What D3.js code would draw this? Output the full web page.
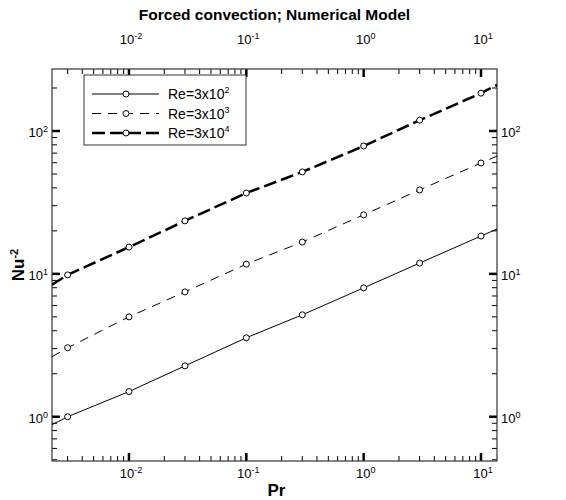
<!DOCTYPE html>
<html>
<head>
<meta charset="utf-8">
<script src="https://cdn.jsdelivr.net/npm/d3@7"></script>
<style>
  body { margin: 0; background: #fff; }
  svg text { font-family: "Liberation Sans", Arial, sans-serif; fill: #000; }
</style>
</head>
<body>
<svg id="chart" width="566" height="500"></svg>
<script>
const width = 566, height = 500;
const margin = { top: 69, right: 69, bottom: 39, left: 52 };

// Prandtl numbers where the model was evaluated
const pr = [0.003, 0.01, 0.03, 0.1, 0.3, 1, 3, 10];

// Nu^-2 for each Reynolds number
const nuRe300 = [1.0, 1.5, 2.27, 3.57, 5.17, 7.98, 11.9, 18.4];
const nuRe3000 = [3.04, 5.0, 7.48, 11.7, 16.7, 25.9, 38.7, 59.7];
const nuRe30000 = [9.84, 15.4, 23.5, 36.8, 51.7, 78.5, 119, 184];

// fitted line ends at the plot edges
const edgePr = [0.00221, 13.7];
const edgeRe300 = [0.88, 20.6];
const edgeRe3000 = [2.63, 66.8];
const edgeRe30000 = [8.4, 210];

const seriesNames = ["Re=3x10", "Re=3x10", "Re=3x10"];
const seriesExp = ["2", "3", "4"];

const xTickExp = [-2, -1, 0, 1];
const yTickExp = [0, 1, 2];

const styles = [
  { width: 1, dash: null },
  { width: 1, dash: "9,7" },
  { width: 2.5, dash: "13,5" }
];

const svg = d3.select("#chart");
const x = d3.scaleLog().domain([0.002208, 13.69]).range([margin.left, width - margin.right]);
const y = d3.scaleLog().domain([0.49, 271.6]).range([height - margin.bottom, margin.top]);
const x0 = margin.left, x1 = width - margin.right, y0 = height - margin.bottom, y1 = margin.top;

svg.append("clipPath").attr("id", "plotclip")
  .append("rect").attr("x", x0).attr("y", y1).attr("width", x1 - x0).attr("height", y0 - y1);

// minor and major ticks on all four sides, pointing inward
function ticksFor(scale) {
  const [a, b] = scale.domain();
  const out = [];
  for (let e = Math.floor(Math.log10(a)); e <= Math.ceil(Math.log10(b)); e++) {
    for (let m = 1; m < 10; m++) {
      const v = m * Math.pow(10, e);
      if (v >= a && v <= b) out.push({ v, major: m === 1 });
    }
  }
  return out;
}

const tickG = svg.append("g").attr("stroke", "#000");
ticksFor(x).forEach(t => {
  const len = t.major ? 8 : 5, sw = t.major ? 2.5 : 1;
  tickG.append("line").attr("x1", x(t.v)).attr("x2", x(t.v)).attr("y1", y0).attr("y2", y0 - len).attr("stroke-width", sw);
  tickG.append("line").attr("x1", x(t.v)).attr("x2", x(t.v)).attr("y1", y1).attr("y2", y1 + len).attr("stroke-width", sw);
});
ticksFor(y).forEach(t => {
  const len = t.major ? 8 : 5, sw = t.major ? 2.5 : 1;
  tickG.append("line").attr("y1", y(t.v)).attr("y2", y(t.v)).attr("x1", x0).attr("x2", x0 + len).attr("stroke-width", sw);
  tickG.append("line").attr("y1", y(t.v)).attr("y2", y(t.v)).attr("x1", x1).attr("x2", x1 - len).attr("stroke-width", sw);
});

svg.append("rect").attr("x", x0).attr("y", y1).attr("width", x1 - x0).attr("height", y0 - y1)
  .attr("fill", "none").attr("stroke", "#333").attr("stroke-width", 1.2);

// tick labels "10^n"
function powLabel(g, px, py, exp, anchor) {
  const t = g.append("text").attr("x", px).attr("y", py).attr("text-anchor", anchor).attr("font-size", 13);
  t.append("tspan").text("10");
  t.append("tspan").attr("dy", -5).attr("font-size", 9).text(exp);
}
const labelG = svg.append("g");
xTickExp.forEach(e => {
  powLabel(labelG, x(Math.pow(10, e)) + 2, y0 + 17, e, "middle");
  powLabel(labelG, x(Math.pow(10, e)) + 2, y1 - 25, e, "middle");
});
yTickExp.forEach(e => {
  powLabel(labelG, x0 - 4, y(Math.pow(10, e)) + 6, e, "end");
  powLabel(labelG, x1 + 4, y(Math.pow(10, e)) + 6, e, "start");
});

// titles
svg.append("text").attr("x", (x0 + x1) / 2).attr("y", 20).attr("text-anchor", "middle")
  .attr("font-size", 15.5).attr("font-weight", "bold").text("Forced convection; Numerical Model");
svg.append("text").attr("x", (x0 + x1) / 2 + 2).attr("y", 496).attr("text-anchor", "middle")
  .attr("font-size", 17).attr("font-weight", "bold").text("Pr");
const yl = svg.append("text").attr("transform", `translate(24,${(y0 + y1) / 2}) rotate(-90)`)
  .attr("text-anchor", "middle").attr("font-size", 17).attr("font-weight", "bold");
yl.append("tspan").text("Nu");
yl.append("tspan").attr("dy", -6).attr("font-size", 11).text("-2");

// series
const allSeries = [
  { pts: nuRe300, edge: edgeRe300 },
  { pts: nuRe3000, edge: edgeRe3000 },
  { pts: nuRe30000, edge: edgeRe30000 }
];
const line = d3.line().x(d => x(d[0])).y(d => y(d[1]));
const plotG = svg.append("g").attr("clip-path", "url(#plotclip)");
allSeries.forEach((s, i) => {
  const data = [[edgePr[0], s.edge[0]], ...pr.map((p, j) => [p, s.pts[j]]), [edgePr[1], s.edge[1]]];
  plotG.append("path").datum(data).attr("d", line).attr("fill", "none").attr("stroke", "#000")
    .attr("stroke-width", styles[i].width).attr("stroke-dasharray", styles[i].dash);
  plotG.selectAll(null).data(pr.map((p, j) => [p, s.pts[j]])).join("circle")
    .attr("cx", d => x(d[0])).attr("cy", d => y(d[1])).attr("r", 3)
    .attr("fill", "#fff").attr("stroke", "#000").attr("stroke-width", 1);
});

// legend
const lg = svg.append("g");
lg.append("rect").attr("x", 84).attr("y", 75).attr("width", 162).attr("height", 70)
  .attr("fill", "#fff").attr("stroke", "#333").attr("stroke-width", 1);
seriesNames.forEach((name, i) => {
  const ly = 94 + i * 19.5;
  lg.append("line").attr("x1", 92).attr("x2", 159).attr("y1", ly).attr("y2", ly)
    .attr("stroke", "#000").attr("stroke-width", styles[i].width).attr("stroke-dasharray", styles[i].dash);
  lg.append("circle").attr("cx", 126).attr("cy", ly).attr("r", 3)
    .attr("fill", "#fff").attr("stroke", "#000");
  const t = lg.append("text").attr("x", 168).attr("y", ly + 5).attr("font-size", 14);
  t.append("tspan").text(name);
  t.append("tspan").attr("dy", -6).attr("font-size", 9).text(seriesExp[i]);
});
</script>
</body>
</html>
